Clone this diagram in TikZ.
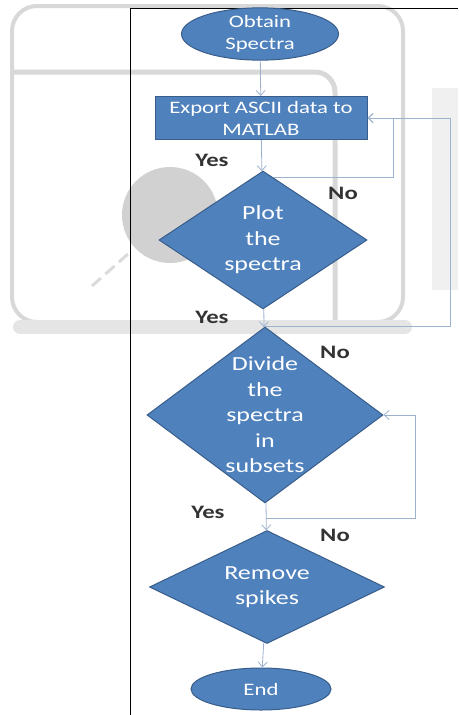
\documentclass[tikz,border=0pt]{standalone}
\usepackage{fontspec}
\newfontfamily\flowfont[FakeStretch=1.3]{Carlito}
\usetikzlibrary{shapes.geometric,arrows.meta}
\definecolor{boxblue}{HTML}{4F81BD}
\definecolor{boxedge}{HTML}{385D8A}
\definecolor{flowline}{HTML}{9DB2CF}
\definecolor{ghost}{HTML}{D8D8D8}

\tikzset{
  term/.style={ellipse, draw=boxedge, fill=boxblue, text=white, line width=1pt, inner sep=0pt, align=center, font=\flowfont\fontsize{17.5}{22}\selectfont},
  procbox/.style={rectangle, draw=boxedge, fill=boxblue, text=white, line width=1pt, inner sep=0pt, align=center, font=\flowfont\fontsize{17.5}{22}\selectfont},
  decide/.style={diamond, draw=boxedge, fill=boxblue, text=white, line width=1pt, inner sep=0pt, align=center, font=\flowfont\fontsize{20}{25.5}\selectfont},
  flow/.style={draw=flowline, line width=0.8pt, ->},
  lbl/.style={inner sep=0pt, text=black!80, font=\flowfont\bfseries\fontsize{19}{24}\selectfont}
}

\begin{document}
\begin{tikzpicture}[x=1pt, y=-1pt, >={Straight Barb[length=5pt,width=9pt]}]
    \useasboundingbox (0,0) rectangle (458,715);
    % faint shapes behind the chart
    \fill[black!6] (432,88) rectangle (458,290);
    \draw[ghost, line width=4pt, rounded corners=25pt] (12,6) rectangle (403,322);
    \draw[ghost, line width=5pt, rounded corners=20pt] (12,72) -- (335,72) -- (335,322);
    \draw[black!10, line width=14pt, line cap=round] (20,327) -- (405,327);
    \fill[black!18] (170,215) circle (48pt);
    \draw[black!14, line width=3pt, dash pattern=on 12pt off 6pt] (92,286) -- (128,254);
    % frame
    \draw[black, line width=1pt] (130,715) -- (130,8) -- (458,8);
    % chart
    \node[term, minimum width=157pt, minimum height=48pt] (start) at (260,34) {Obtain\\Spectra};
    \node[procbox, minimum width=212pt, minimum height=43pt] (export) at (261,118) {Export ASCII data to\\MATLAB};
    \node[decide, minimum width=208pt, minimum height=138pt, shape aspect=1.5] (plot) at (263,240) {Plot\\the\\spectra};
    \node[decide, minimum width=236pt, minimum height=176pt, shape aspect=1.34] (divide) at (265,415) {Divide\\the\\spectra\\in\\subsets};
    \node[decide, minimum width=235pt, minimum height=113pt, shape aspect=2.05] (remove) at (267,587) {Remove\\spikes};
    \node[term, minimum width=140pt, minimum height=42pt] (stop) at (261,689) {End};
    \coordinate (cornerA) at (393,118);
    \coordinate (cornerB) at (450,118);
    \coordinate (splitC) at (266,518);
    \coordinate (cornerC) at (415,518);
    \draw[flow] (start) -- (export);
    \draw[flow] (export) -- (plot);
    \draw[flow] (plot) -- (divide);
    \draw[flow] (divide) -- (remove);
    \draw[flow] (remove) -- (stop);
    \draw[flow] (plot.80) -| (cornerA) |- (export.east);
    \draw[flow] (divide.north) -| (cornerB) |- (export.east);
    \draw[flow] (splitC) -- (cornerC) |- (divide.east);
    \node[lbl] (yesA) at (212,160) {Yes};
    \node[lbl] (noA) at (343,193) {No};
    \node[lbl] (yesB) at (212,317) {Yes};
    \node[lbl] (noB) at (335,352) {No};
    \node[lbl] (yesC) at (208,512) {Yes};
    \node[lbl] (noC) at (335,535) {No};
\end{tikzpicture}
\end{document}
